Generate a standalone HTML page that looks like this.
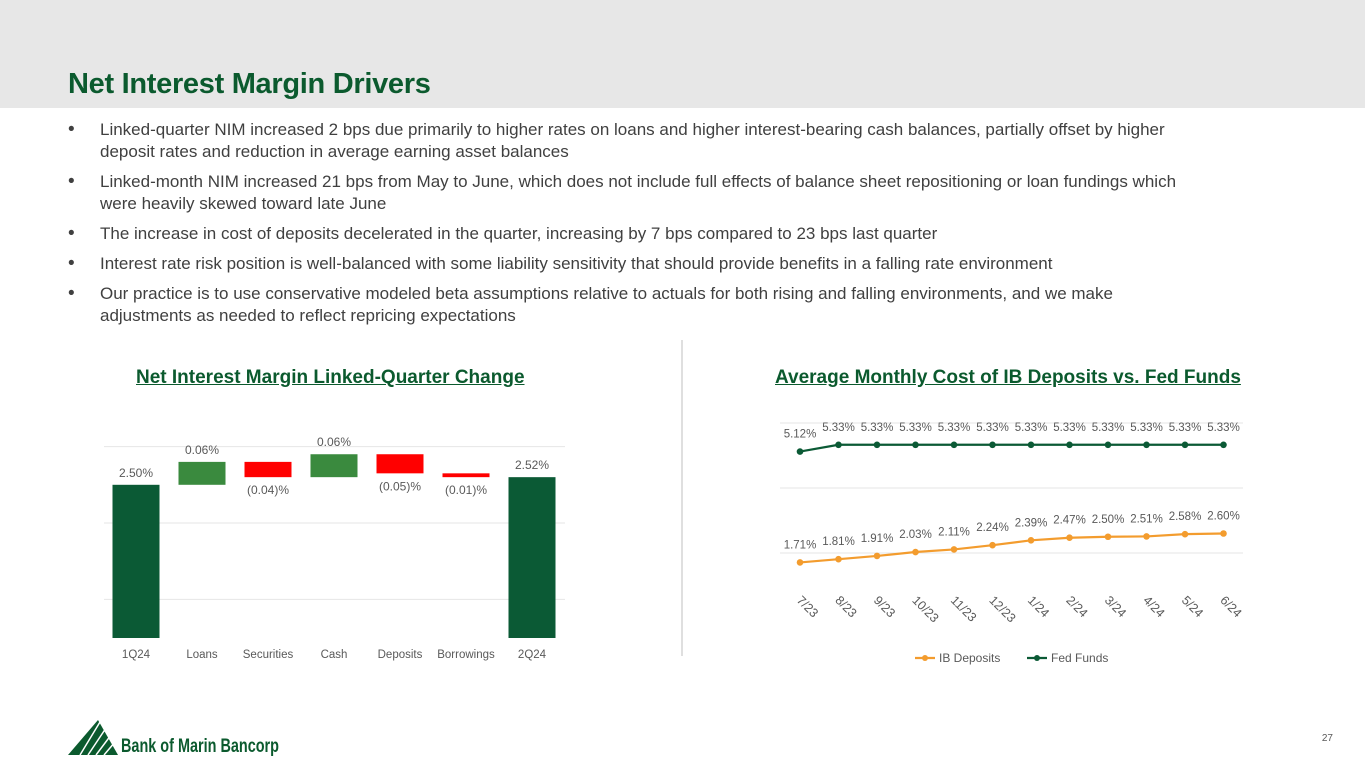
<!DOCTYPE html>
<html><head><meta charset="utf-8"><style>
body{margin:0;width:1365px;height:768px;position:relative;background:#fff;font-family:"Liberation Sans",sans-serif;overflow:hidden}
.hdr{position:absolute;left:0;top:0;width:1365px;height:108px;background:#e7e7e7}
h1{position:absolute;left:68px;top:68px;margin:0;font-size:29px;font-weight:bold;color:#0b5a2e;letter-spacing:-0.3px}
ul{position:absolute;left:68px;top:119px;width:1128px;margin:0;padding:0;list-style:none;color:#404040;font-size:17px;line-height:22px}
li{position:relative;padding-left:32px;margin-bottom:8px}
li:before{content:"•";position:absolute;left:0;top:0;font-size:19px}
.ct{position:absolute;font-size:19px;font-weight:bold;color:#0b5a2e;text-decoration:underline;top:367px}
svg{position:absolute;left:0;top:0}
</style></head><body>
<div class="hdr"></div>
<h1>Net Interest Margin Drivers</h1>
<ul>
<li>Linked-quarter NIM increased 2 bps due primarily to higher rates on loans and higher interest-bearing cash balances, partially offset by higher deposit rates and reduction in average earning asset balances</li>
<li>Linked-month NIM increased 21 bps from May to June, which does not include full effects of balance sheet repositioning or loan fundings which were heavily skewed toward late June</li>
<li>The increase in cost of deposits decelerated in the quarter, increasing by 7 bps compared to 23 bps last quarter</li>
<li>Interest rate risk position is well-balanced with some liability sensitivity that should provide benefits in a falling rate environment</li>
<li>Our practice is to use conservative modeled beta assumptions relative to actuals for both rising and falling environments, and we make adjustments as needed to reflect repricing expectations</li>
</ul>
<div class="ct" style="left:136px">Net Interest Margin Linked-Quarter Change</div>
<div class="ct" style="left:775px">Average Monthly Cost of IB Deposits vs. Fed Funds</div>
<svg id="chart" width="1365" height="768">
<line x1="682" y1="340" x2="682" y2="656" stroke="#bfbfbf"/>
</svg>
<svg width="1365" height="768" style="pointer-events:none">
<g>
<polygon points="68,755 98,720 118,755" fill="#0b5a2e"/>
<g stroke="#fff" stroke-width="1.5"><line x1="80" y1="755" x2="100" y2="722"/><line x1="88" y1="755" x2="106" y2="728"/><line x1="96" y1="755" x2="111" y2="735"/><line x1="104" y1="755" x2="115" y2="742"/></g>
<text x="121" y="752" font-size="19" font-weight="bold" fill="#0b5a2e" font-family="Liberation Sans Narrow, Liberation Sans, sans-serif" textLength="158" lengthAdjust="spacingAndGlyphs">Bank of Marin Bancorp</text>
</g>
<text x="1333" y="741" font-size="10" fill="#595959" text-anchor="end">27</text>
</svg>
<script>
const wfCats=["1Q24","Loans","Securities","Cash","Deposits","Borrowings","2Q24"];
const wfVals=[2.50,0.06,-0.04,0.06,-0.05,-0.01,2.52];
const wfLabels=["2.50%","0.06%","(0.04)%","0.06%","(0.05)%","(0.01)%","2.52%"];
const wfTicks=[2.2,2.4,2.6];
const months=["7/23","8/23","9/23","10/23","11/23","12/23","1/24","2/24","3/24","4/24","5/24","6/24"];
const ibDeposits=[1.71,1.81,1.91,2.03,2.11,2.24,2.39,2.47,2.50,2.51,2.58,2.60];
const fedFunds=[5.12,5.33,5.33,5.33,5.33,5.33,5.33,5.33,5.33,5.33,5.33,5.33];
const lineTicks=[2,4,6];
const NS="http://www.w3.org/2000/svg";
const svg=document.getElementById("chart");
function mk(t,a,txt){const e=document.createElementNS(NS,t);for(const k in a)e.setAttribute(k,a[k]);if(txt!==undefined)e.textContent=txt;svg.appendChild(e);return e;}
const wy=v=>523-(v-2.4)*382, wx=i=>136+i*66, base=638;
wfTicks.forEach(t=>{const l=mk("line",{x1:104,x2:565,y1:wy(t),y2:wy(t),stroke:"#e6e6e6"});

});
let run=0;
wfVals.forEach((v,i)=>{let top,bot,fill;
 if(i===0||i===wfVals.length-1){top=wy(v);bot=base;fill="#0b5a35";run=v;}
 else{const a=run,b=run+v;top=wy(Math.max(a,b));bot=wy(Math.min(a,b));fill=v>=0?"#3a8a3e":"#ff0000";run=b;}
 const r=mk("rect",{x:wx(i)-23.5,y:top,width:47,height:Math.max(bot-top,3),fill:fill});
 
 
 const below=v<0;
 const t=mk("text",{x:wx(i),y:below?bot+17:top-8,"font-size":12,fill:"#595959","text-anchor":"middle"},wfLabels[i]);
 
 
 const c=mk("text",{x:wx(i),y:658,"font-size":11.5,fill:"#595959","text-anchor":"middle"},wfCats[i]);
 
 
});
const ly=v=>553-(v-2)*32.5, lx=i=>800+i*38.5;
lineTicks.forEach(t=>{const l=mk("line",{x1:780,x2:1243,y1:ly(t),y2:ly(t),stroke:"#e6e6e6"});

});
function series(vals,color,name){
 const p=mk("polyline",{points:vals.map((v,i)=>lx(i)+","+ly(v)).join(" "),fill:"none",stroke:color,"stroke-width":2.2});
 
 
 vals.forEach((v,i)=>{const c=mk("circle",{cx:lx(i),cy:ly(v),r:3.3,fill:color});
 
 
 const t=mk("text",{x:lx(i),y:ly(v)-14,"font-size":11.5,fill:"#595959","text-anchor":"middle"},v.toFixed(2)+"%");
 
 });
}
series(fedFunds,"#0b5a35","fed-funds");
series(ibDeposits,"#f39c2e","ib-deposits");
months.forEach((m,i)=>{const t=mk("text",{x:lx(i)-4,y:601,"font-size":12.5,fill:"#595959",transform:`rotate(45 ${lx(i)-4} 601)`},m);

});
[["IB Deposits","#f39c2e",915],["Fed Funds","#0b5a35",1027]].forEach(([n,c,x])=>{
 const l=mk("line",{x1:x,x2:x+20,y1:658,y2:658,stroke:c,"stroke-width":2.2});
 
 
 const d=mk("circle",{cx:x+10,cy:658,r:3,fill:c});
 
 
 const t=mk("text",{x:x+24,y:662,"font-size":12,fill:"#595959"},n);
 
 });
</script>
</body></html>
